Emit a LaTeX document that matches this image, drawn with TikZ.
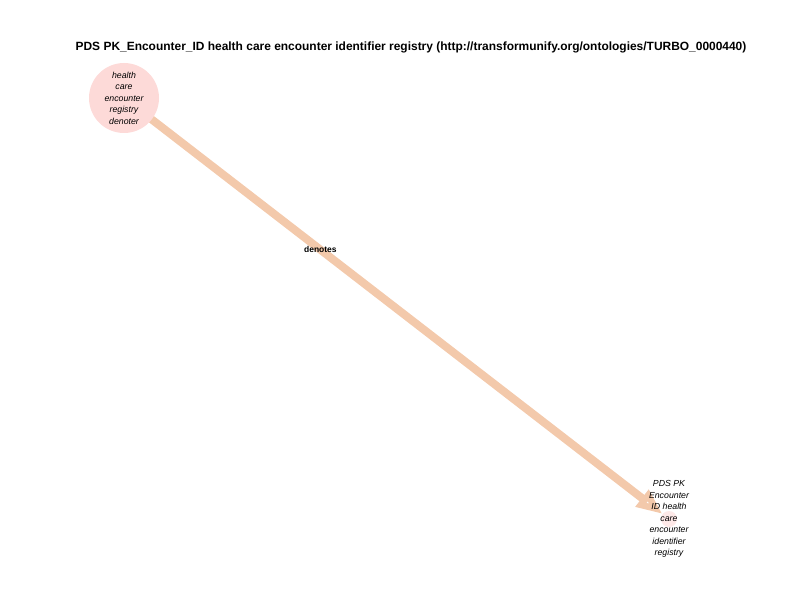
\documentclass[tikz,border=0pt]{standalone}
\usepackage{fontspec}
\setmainfont{Liberation Sans}
\usetikzlibrary{arrows.meta,backgrounds}

\definecolor{nodepink}{HTML}{FDDAD8}
\definecolor{edgepeach}{HTML}{F3C9AB}
\definecolor{headpeach}{HTML}{EFB58E}

\tikzset{
  entity/.style={circle, fill=nodepink, inner sep=0pt, align=center,
    font=\fontsize{8.8}{11.5}\selectfont\itshape},
  edgelbl/.style={font=\fontsize{8.5}{10}\selectfont\bfseries},
  relation/.style={edgepeach, line width=8bp, line cap=round,
    -{Triangle[length=26bp,width=20bp,fill=headpeach,open]}}
}

\begin{document}
\begin{tikzpicture}[x=1bp,y=-1bp]
        \useasboundingbox (0,0) rectangle (792,612);

        % Title
        \node[font=\fontsize{12}{14}\selectfont\bfseries] (title) at (411,47)
          {PDS PK\_Encounter\_ID health care encounter identifier registry (http://transformunify.org/ontologies/TURBO\_0000440)};

        % Nodes
        \node[entity, minimum size=70bp] (src) at (124,98)
          {health\\care\\encounter\\registry\\denoter};
        \node[entity, minimum size=16bp, fill opacity=0.6,
          label={[align=center, font=\fontsize{8.8}{11.5}\selectfont\itshape]center:PDS PK\\Encounter\\ID health\\care\\encounter\\identifier\\registry}]
          (tgt) at (669,519) {};

        % Edge
        \begin{pgfonlayer}{background}
        \draw[relation] (src) -- (tgt) node[pos=0.33, edgelbl, text=black] (lbl) {denotes};
        \end{pgfonlayer}

    \end{tikzpicture}
\end{document}
